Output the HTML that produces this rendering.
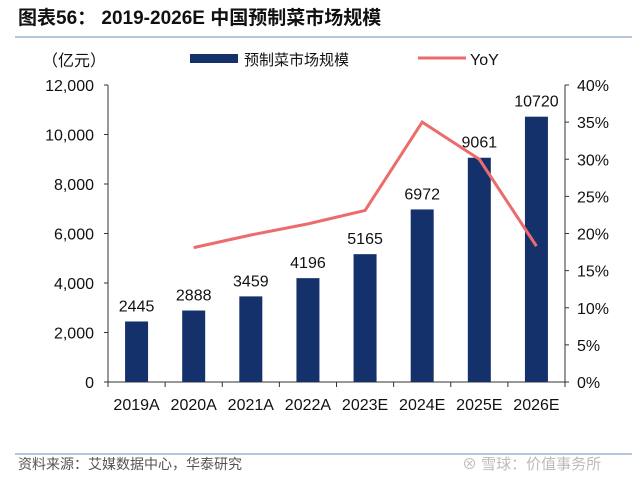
<!DOCTYPE html>
<html><head><meta charset="utf-8"><style>
body{margin:0;background:#fff;width:640px;height:475px;overflow:hidden;font-family:"Liberation Sans","Noto Sans CJK SC",sans-serif}
</style></head><body>
<svg width="640" height="475" xmlns="http://www.w3.org/2000/svg" font-family="Liberation Sans, Noto Sans CJK SC, sans-serif">
<text x="18" y="24" font-size="19" font-weight="bold" fill="#111">图表56： 2019-2026E 中国预制菜市场规模</text>
<line x1="15" y1="37" x2="632" y2="37" stroke="#8aa3c3" stroke-width="1.2"/>
<text x="42" y="66" font-size="16" fill="#111">（亿元）</text>
<rect x="190" y="54" width="48" height="9" fill="#15316b"/>
<text x="244" y="65" font-size="15" fill="#111">预制菜市场规模</text>
<line x1="418" y1="58" x2="466" y2="58" stroke="#ec6b6b" stroke-width="3"/>
<text x="470" y="65" font-size="16" fill="#111">YoY</text>
<g id="chart"></g>
<line x1="15" y1="454" x2="632" y2="454" stroke="#8aa3c3" stroke-width="1.2"/>
<text x="18" y="469" font-size="14" fill="#555">资料来源：艾媒数据中心，华泰研究</text>
<text x="462" y="469" font-size="15" fill="#bbb">⊗ 雪球：价值事务所</text>
</svg>
<script>
const categories=["2019A","2020A","2021A","2022A","2023E","2024E","2025E","2026E"];
const marketSize=[2445,2888,3459,4196,5165,6972,9061,10720];
const yoy=[null,18.1,19.8,21.3,23.1,35.0,30.0,18.3];
const leftTicks=[0,2000,4000,6000,8000,10000,12000];
const rightTicks=[0,5,10,15,20,25,30,35,40];
const ns="http://www.w3.org/2000/svg";
const g=document.getElementById("chart");
const X0=108,X1=565,Y0=382,Y1=85;
const bw=(X1-X0)/categories.length;
const yL=v=>Y0-(v/12000)*(Y0-Y1);
const yR=v=>Y0-(v/40)*(Y0-Y1);
const xC=i=>X0+bw*(i+0.5);
function mk(t,a,txt){const e=document.createElementNS(ns,t);for(const k in a)e.setAttribute(k,a[k]);if(txt!=null)e.textContent=txt;g.appendChild(e);return e;}
let e;
e=mk("line",{x1:X0,y1:Y1,x2:X0,y2:Y0,stroke:"#333"});


e=mk("line",{x1:X1,y1:Y1,x2:X1,y2:Y0,stroke:"#333"});


e=mk("line",{x1:X0,y1:Y0,x2:X1,y2:Y0,stroke:"#333"});


leftTicks.forEach(v=>{
 mk("line",{x1:X0-4,y1:yL(v),x2:X0,y2:yL(v),stroke:"#333"});
 e=mk("text",{x:X0-14,y:yL(v)+6,"font-size":16,"text-anchor":"end",fill:"#111"},v.toLocaleString("en-US"));
 
 
});
rightTicks.forEach(v=>{
 mk("line",{x1:X1,y1:yR(v),x2:X1+4,y2:yR(v),stroke:"#333"});
 e=mk("text",{x:X1+12,y:yR(v)+6,"font-size":16,fill:"#111"},v+"%");
 
 
});
for(let i=0;i<=categories.length;i++)mk("line",{x1:X0+bw*i,y1:Y0,x2:X0+bw*i,y2:Y0+5,stroke:"#333"});
categories.forEach((c,i)=>{
 e=mk("text",{x:xC(i),y:Y0+28,"font-size":16,"text-anchor":"middle",fill:"#111"},c);
 
 
});
marketSize.forEach((v,i)=>{
 e=mk("rect",{x:xC(i)-11.5,y:yL(v),width:23,height:Y0-yL(v),fill:"#15316b"});
 
 
 e=mk("text",{x:xC(i),y:yL(v)-10,"font-size":16,"text-anchor":"middle",fill:"#111"},String(v));
 
 
});
const pts=yoy.map((v,i)=>v==null?null:xC(i)+","+yR(v)).filter(p=>p);
e=mk("polyline",{points:pts.join(" "),fill:"none",stroke:"#ec6b6b","stroke-width":3});


</script>
</body></html>
